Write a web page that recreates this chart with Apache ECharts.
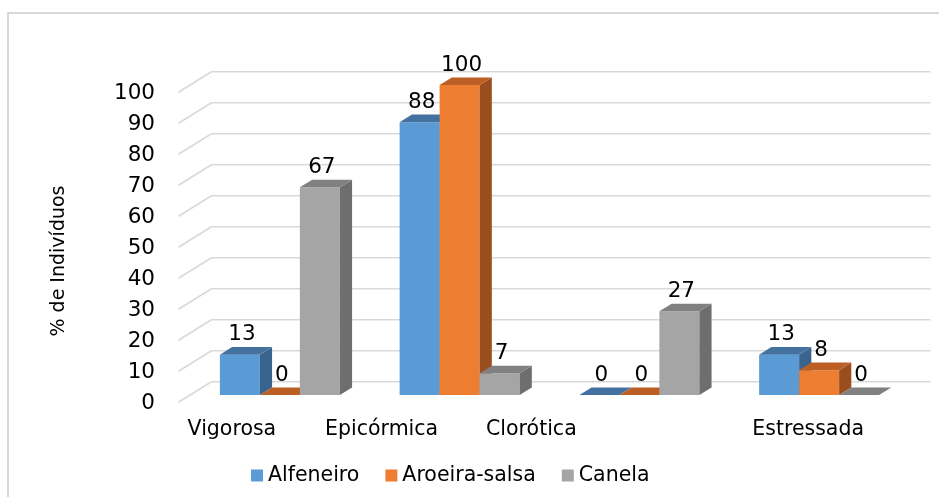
<!DOCTYPE html>
<html>
<head>
<meta charset="utf-8">
<script src="https://cdn.jsdelivr.net/npm/echarts@6/dist/echarts.min.js"></script>
<style>
html,body{margin:0;padding:0;background:#fff;}
#chart{width:939px;height:497px;}
</style>
</head>
<body>
<div id="chart"></div>
<script>
// ---- data ----
const categories = ['Vigorosa', 'Epicórmica', 'Clorótica', 'Estressada'];
const seriesNames = ['Alfeneiro', 'Aroeira-salsa', 'Canela'];
const alfeneiro = [13, 88, 0, 13];
const aroeiraSalsa = [0, 100, 0, 8];
const canela = [67, 7, 27, 0];
const yTicks = [0, 10, 20, 30, 40, 50, 60, 70, 80, 90, 100];

// ---- styles ----
const FONT = 'DejaVu Sans';
const faces = [
  { front: '#5B9BD5', top: '#4472a0', side: '#3a638d' },
  { front: '#ED7D31', top: '#bc5f24', side: '#9a4e1e' },
  { front: '#A5A5A5', top: '#808080', side: '#6e6e6e' }
];
const FRONT_EDGE = [-11.5, 7.2];   // floor front edge relative to bar front plane
const BACK_WALL = [21.5, -13.3];   // back wall relative to bar front plane
const BAR_DEPTH = [12.2, -7.6];
const BAR_FRAC = 0.2225;

const labelShift = { 'Vigorosa': 96, 'Epicórmica': 156, 'Clorótica': 216, 'Estressada': 22 };
const richKeys = ['a', 'b', 'c', 'd'];
const rich = {};
categories.forEach((c, i) => {
  rich[richKeys[i]] = { fontFamily: FONT, fontSize: 20.5, color: '#000', padding: [0, labelShift[c], 0, 0] };
});

function barRender(sIdx) {
  return function (params, api) {
    const j = api.value(0), v = api.value(1);
    const base = api.coord([j, 0]);
    const top = api.coord([j, v]);
    const band = api.size([1, 0])[0];
    const w = band * BAR_FRAC;
    const x0 = base[0] + (sIdx - 1.5) * w;
    const x1 = x0 + w;
    const yb = base[1], yt = top[1];
    const dx = BAR_DEPTH[0], dy = BAR_DEPTH[1];
    const f = faces[sIdx];
    return {
      type: 'group',
      children: [
        { type: 'rect', shape: { x: x0, y: yt, width: w, height: yb - yt }, style: { fill: f.front } },
        { type: 'polygon', shape: { points: [[x1, yb], [x1 + dx, yb + dy], [x1 + dx, yt + dy], [x1, yt]] }, style: { fill: f.side } },
        { type: 'polygon', shape: { points: [[x0, yt], [x0 + dx, yt + dy], [x1 + dx, yt + dy], [x1, yt]] }, style: { fill: f.top } },
        { type: 'text', x: (x0 + x1) / 2 + 2, y: yt - 20, style: { text: String(v), textAlign: 'center', textVerticalAlign: 'middle', font: '21.5px "' + FONT + '"', fill: '#000' } }
      ]
    };
  };
}

function gridRender(params, api) {
  const t = api.value(1);
  const cs = params.coordSys;
  const y = api.coord([0, t])[1];
  const left = cs.x, right = cs.x + cs.width;
  const lineStyle = { stroke: '#d9d9d9', lineWidth: 1.6 };
  return {
    type: 'group',
    children: [
      { type: 'line', shape: { x1: left + FRONT_EDGE[0], y1: y + FRONT_EDGE[1], x2: left + BACK_WALL[0], y2: y + BACK_WALL[1] }, style: lineStyle },
      { type: 'line', shape: { x1: left + BACK_WALL[0], y1: y + BACK_WALL[1], x2: right + BACK_WALL[0], y2: y + BACK_WALL[1] }, style: lineStyle }
    ]
  };
}

const valueSets = [alfeneiro, aroeiraSalsa, canela];

const chart = echarts.init(document.getElementById('chart'), null, { renderer: 'canvas' });
chart.setOption({
  animation: false,
  color: faces.map(f => f.front),
  grid: { left: 190, right: 30, top: 85, bottom: 102, containLabel: false },
  xAxis: {
    type: 'category',
    data: categories,
    axisLine: { show: false },
    axisTick: { show: false },
    axisLabel: {
      margin: 24,
      interval: 0,
      formatter: function (val, idx) { return '{' + richKeys[idx] + '|' + val + '}'; },
      rich: rich
    }
  },
  yAxis: {
    type: 'value',
    min: 0, max: 100, interval: 10,
    axisLine: { show: false },
    axisTick: { show: false },
    splitLine: { show: false },
    axisLabel: { margin: 35, fontFamily: FONT, fontSize: 21.5, color: '#000', verticalAlign: 'top', lineHeight: 16 }
  },
  legend: {
    data: seriesNames,
    left: 246, top: 460,
    icon: 'rect', itemWidth: 12, itemHeight: 12, itemGap: 26,
    textStyle: { fontFamily: FONT, fontSize: 20.5, color: '#000' }
  },
  graphic: [
    { type: 'rect', shape: { x: 8, y: 13, width: 1000, height: 600 }, style: { fill: null, stroke: '#d9d9d9', lineWidth: 2 }, silent: true, z: -10 },
    { type: 'text', x: 59, y: 261, rotation: Math.PI / 2, style: { text: '% de Indivíduos', textAlign: 'center', textVerticalAlign: 'middle', font: '19px "' + FONT + '"', fill: '#000' } }
  ],
  series: [
    { type: 'custom', name: '_grid', silent: true, renderItem: gridRender, data: yTicks.map(t => [0, t]), z: 1, clip: false }
  ].concat(seriesNames.map((n, i) => ({
    type: 'custom', name: n, renderItem: barRender(i), clip: false, z: 2 + i,
    itemStyle: { color: faces[i].front },
    data: categories.map((c, j) => [j, valueSets[i][j]])
  })))
});
</script>
</body>
</html>
